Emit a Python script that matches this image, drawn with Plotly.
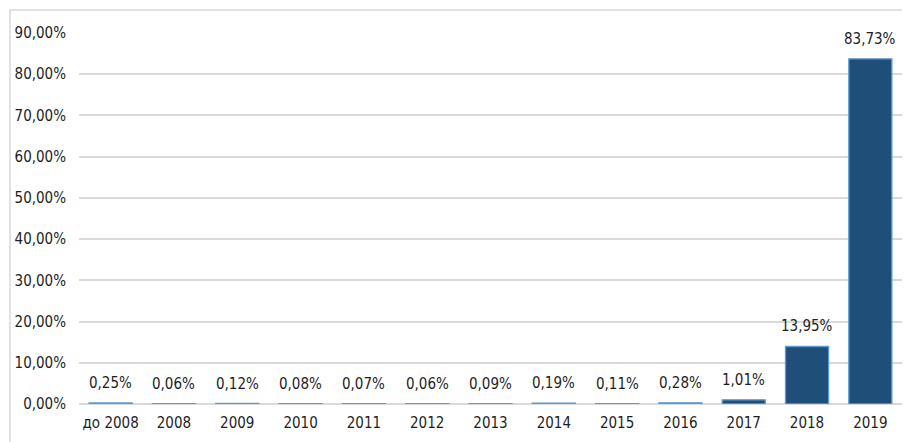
import plotly.graph_objects as go

# shares by year of registration
categories = ["до 2008", "2008", "2009", "2010", "2011", "2012", "2013",
              "2014", "2015", "2016", "2017", "2018", "2019"]
values = [0.25, 0.06, 0.12, 0.08, 0.07, 0.06, 0.09,
          0.19, 0.11, 0.28, 1.01, 13.95, 83.73]
y_ticks = [0, 10, 20, 30, 40, 50, 60, 70, 80, 90]

FONT = "DejaVu Sans Condensed, Liberation Sans, sans-serif"
TXT = "#1e1e1e"
BAR = "#1F4E79"
EDGE = "#5B9BD5"
F = dict(family=FONT, size=15, color=TXT)


def pct(v):
    return f"{v:.2f}".replace(".", ",") + "%"


fig = go.Figure()
fig.add_trace(go.Bar(x=categories, y=values,
                     marker=dict(color=BAR, line=dict(color=EDGE, width=1.3)),
                     hoverinfo="skip"))

# data labels a little above each bar (x is the category index,
# otherwise "2008" etc. would be read as numbers)
for i, v in enumerate(values):
    fig.add_annotation(x=i, y=v, text=pct(v), showarrow=False,
                       yanchor="bottom", yshift=9, font=F)

# light frame round the chart
fig.add_shape(type="rect", xref="paper", yref="paper",
              x0=-0.0838, x1=1.2, y0=-0.2, y1=1.062,
              line=dict(color="#d9d9d9", width=1.5), layer="below")

# the page body adds an 8px margin, so the figure is 8px smaller
fig.update_layout(
    width=902, height=434,
    margin=dict(l=71, r=8, t=25, b=38),
    paper_bgcolor="white", plot_bgcolor="white",
    showlegend=False, bargap=0.32,
    font=F,
)
fig.update_xaxes(type="category", range=[-0.5, len(categories) - 0.5],
                 showgrid=False, showline=False,
                 ticks="outside", ticklen=5, tickcolor="rgba(0,0,0,0)",
                 tickfont=F)
fig.update_yaxes(range=[0, 90], tickvals=y_ticks,
                 ticktext=[pct(t) for t in y_ticks],
                 showgrid=True, gridcolor="#d9d9d9", gridwidth=1.5,
                 zeroline=True, zerolinecolor="#d9d9d9", zerolinewidth=1.5,
                 ticklabelstandoff=12, tickfont=F)

fig.write_html("out.html")
